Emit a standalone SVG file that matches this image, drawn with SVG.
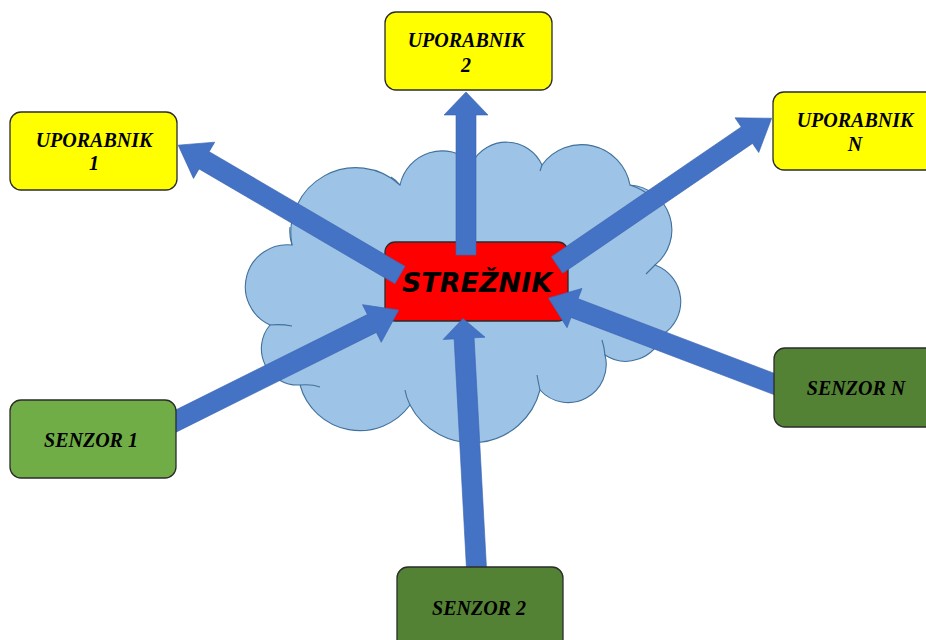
<svg xmlns="http://www.w3.org/2000/svg" width="926" height="640" viewBox="0 0 926 640">
<style>
.box{stroke:#2b2b2b;stroke-width:1.3}
.user{fill:#ffff00}
.s1{fill:#70ad47}
.s2{fill:#548235}
.lbl{font-family:"Liberation Serif","Times New Roman",serif;font-weight:bold;font-style:italic;font-size:20px;fill:#000;text-anchor:middle}
.srv{font-family:"DejaVu Sans",sans-serif;font-weight:bold;font-style:oblique;font-size:27px;fill:#000;text-anchor:middle}
.arr{fill:#4472c4;stroke:#3b65b3;stroke-width:0.6}
.stub{fill:none;stroke:#41719c;stroke-width:1.1}
</style>
<rect width="926" height="640" fill="#ffffff"/>
<g id="cloud">
<path d="M292,245 A65,65 0 0 1 400,185 A43,43 0 0 1 472,163 A39,39 0 0 1 542,165 A49,49 0 0 1 630,185 A45,45 0 0 1 655,265 A39,39 0 0 1 662,335 A38,38 0 0 1 605,355 A38,38 0 0 1 540,390 A70,70 0 0 1 410,405 A62,62 0 0 1 300,385 A36.5,36.5 0 0 1 270,325 A42,42 0 0 1 292,245 Z" fill="#9dc3e6" stroke="#41719c" stroke-width="1.1"/>
<path class="stub" d="M292,245 Q289,236 290,227 M400,185 Q396,180 391,177 M472,163 Q473,167 475,171 M542,165 Q541,168 540,171 M630,185 Q642,189 652,197 M655,265 Q650,270 646,274 M662,335 Q652,332 642,331 M605,355 Q604,346 602,340 M540,390 Q538,381 537,375 M410,405 Q406,397 405,390 M300,385 Q312,384 320,387 M270,325 Q281,324 292,326"/>
</g>
<g id="server">
<rect class="box" x="385" y="242" width="183" height="79" rx="10" fill="#ff0000" stroke="#000"/>
<text class="srv" x="477" y="292">STREŽNIK</text>
</g>
<g id="connectors">
<path class="arr" transform="translate(400,275) rotate(-149.65)" d="M0,-10 L227,-10 L227,-21 L257,0 L227,21 L227,10 L0,10 Z"/>
<path class="arr" transform="translate(466,255) rotate(-90)" d="M0,-10 L140,-10 L140,-22 L163,0 L140,22 L140,10 L0,10 Z"/>
<path class="arr" transform="translate(557,265) rotate(-34.36)" d="M0,-10 L230,-10 L230,-21 L260,0 L230,21 L230,10 L0,10 Z"/>
<path class="arr" transform="translate(166,426) rotate(-26.47)" d="M0,-10 L230,-10 L230,-21 L260,0 L230,21 L230,10 L0,10 Z"/>
<path class="arr" transform="translate(477,578) rotate(-93.08)" d="M0,-10 L240,-10 L240,-21 L260,0 L240,21 L240,10 L0,10 Z"/>
<path class="arr" transform="translate(782,387) rotate(-159.17)" d="M0,-10 L222,-10 L222,-21 L250,0 L222,21 L222,10 L0,10 Z"/>
</g>
<g id="uporabnik1">
<rect class="box user" x="10" y="112" width="167" height="78" rx="11"/>
<text class="lbl" x="94" y="147">UPORABNIK</text>
<text class="lbl" x="94" y="170">1</text>
</g>
<g id="uporabnik2">
<rect class="box user" x="385" y="12" width="167" height="78" rx="11"/>
<text class="lbl" x="466" y="47">UPORABNIK</text>
<text class="lbl" x="466" y="72">2</text>
</g>
<g id="uporabnikN">
<rect class="box user" x="773" y="92" width="167" height="78" rx="11"/>
<text class="lbl" x="855" y="127">UPORABNIK</text>
<text class="lbl" x="855" y="151">N</text>
</g>
<g id="senzor1">
<rect class="box s1" x="10" y="400" width="166" height="78" rx="11"/>
<text class="lbl" x="91" y="447">SENZOR 1</text>
</g>
<g id="senzor2">
<rect class="box s2" x="397" y="567" width="166" height="85" rx="11"/>
<text class="lbl" x="479" y="615">SENZOR 2</text>
</g>
<g id="senzorN">
<rect class="box s2" x="774" y="348" width="166" height="79" rx="11"/>
<text class="lbl" x="856" y="395">SENZOR N</text>
</g>
</svg>
